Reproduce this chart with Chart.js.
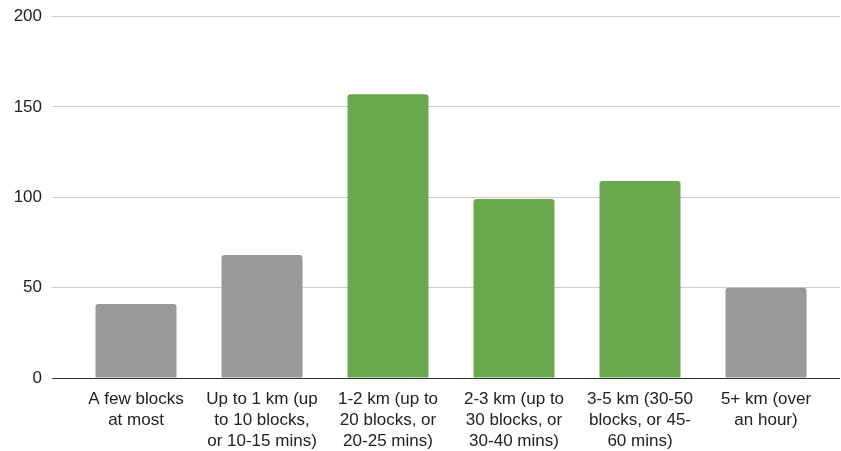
<!DOCTYPE html>
<html>
<head>
<meta charset="utf-8">
<style>
  html, body { margin: 0; padding: 0; background: #fff; }
  #wrap { position: relative; width: 841px; height: 451px; }
</style>
<script src="https://cdn.jsdelivr.net/npm/chart.js@4.4.1/dist/chart.umd.min.js"></script>
</head>
<body>
<div id="wrap"><canvas id="chart"></canvas></div>
<script>
// Distance categories (multi-line labels) and response counts
const categories = [
  ["A few blocks", "at most"],
  ["Up to 1 km (up", "to 10 blocks,", "or 10-15 mins)"],
  ["1-2 km (up to", "20 blocks, or", "20-25 mins)"],
  ["2-3 km (up to", "30 blocks, or", "30-40 mins)"],
  ["3-5 km (30-50", "blocks, or 45-", "60 mins)"],
  ["5+ km (over", "an hour)"]
];
const responses = [41, 68, 157, 99, 109, 50];
const yTicks = [0, 50, 100, 150, 200];

// Bars for the middle distance bands are highlighted in green
const GREY = '#999999';
const GREEN = '#6aa84f';
const barColors = [GREY, GREY, GREEN, GREEN, GREEN, GREY];

const FONT = { family: 'Arial, "Liberation Sans", sans-serif', size: 17 };
const GRID = '#cccccc';
const ZERO = '#333333';

new Chart(document.getElementById('chart'), {
  type: 'bar',
  data: {
    labels: categories,
    datasets: [{
      data: responses,
      backgroundColor: barColors,
      borderWidth: 0,
      borderRadius: 3,
      borderSkipped: 'start',
      barPercentage: 0.643,
      categoryPercentage: 1.0
    }]
  },
  options: {
    responsive: true,
    maintainAspectRatio: false,
    animation: false,
    layout: { padding: { top: 16.5, left: 0, right: 0, bottom: 0 } },
    plugins: { legend: { display: false }, tooltip: { enabled: false } },
    scales: {
      x: {
        grid: { display: false },
        border: { display: false },
        ticks: {
          autoSkip: false,
          maxRotation: 0,
          color: '#222222',
          font: { ...FONT, lineHeight: 1.24 },
          padding: 3
        },
        afterFit: (s) => { s.height = 73; }
      },
      y: {
        min: yTicks[0],
        max: yTicks[yTicks.length - 1],
        afterBuildTicks: (s) => { s.ticks = yTicks.map(v => ({ value: v })); },
        grid: {
          color: (ctx) => ctx.tick && ctx.tick.value === 0 ? ZERO : GRID,
          lineWidth: 1,
          drawTicks: true,
          tickLength: 21
        },
        border: { display: false },
        ticks: { color: '#222222', font: FONT, padding: 10 },
        afterFit: (s) => { s.width = 73; s.paddingTop = 0; s.paddingBottom = 0; }
      },
      yRight: {
        position: 'right',
        min: yTicks[0],
        max: yTicks[yTicks.length - 1],
        afterBuildTicks: (s) => { s.ticks = yTicks.map(v => ({ value: v })); },
        grid: {
          color: (ctx) => ctx.tick && ctx.tick.value === 0 ? ZERO : GRID,
          lineWidth: 1,
          drawOnChartArea: false,
          drawTicks: true,
          tickLength: 11
        },
        border: { display: false },
        ticks: { display: false },
        afterFit: (s) => { s.width = 12; s.paddingTop = 0; s.paddingBottom = 0; }
      }
    }
  }
});
</script>
</body>
</html>
